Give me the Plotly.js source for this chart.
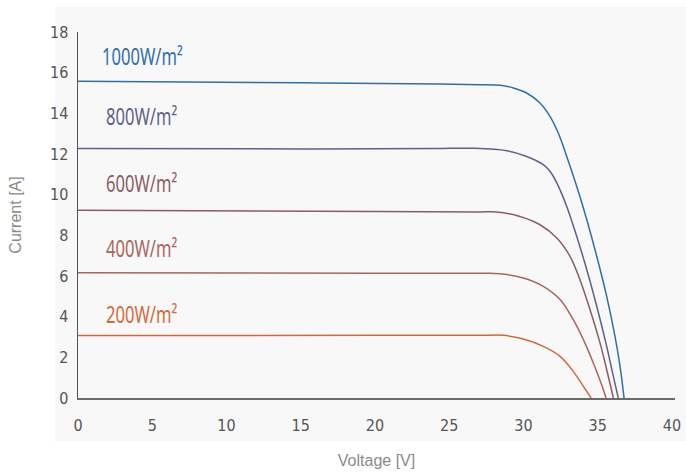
<!DOCTYPE html>
<html>
<head>
<meta charset="utf-8">
<script src="https://cdn.plot.ly/plotly-3.0.1.min.js"></script>
<style>
html,body{margin:0;padding:0;background:#fff;}
#chart{width:686px;height:472px;}
#chart .annotation-text{transform-box:fill-box;transform-origin:0% 50%;transform:scaleX(0.72);}
</style>
</head>
<body>
<div id="chart"></div>
<script>
// Irradiance series labels
const seriesNames = ["1000W/m²", "800W/m²", "600W/m²", "400W/m²", "200W/m²"];
const seriesColors = ["#2f6fa8", "#5f6089", "#8c5c63", "#aa655b", "#d06a3a"];

// Voltage [V] / Current [A]
const v1000 = [0, 15, 24.4, 27.07, 28.42, 29.31, 30.21, 31.11, 31.78, 32.34, 32.91, 33.58, 34.26, 34.93, 35.60, 36.16, 36.50, 36.77];
const i1000 = [15.58, 15.5, 15.44, 15.41, 15.38, 15.25, 15.00, 14.51, 13.85, 13.03, 11.88, 10.41, 8.77, 6.97, 5.00, 3.03, 1.55, 0];

const v800 = [0, 15, 24, 26.6, 28.87, 30.21, 31.33, 31.78, 32.24, 32.91, 33.58, 34.26, 34.93, 35.60, 36.05, 36.38];
const i800 = [12.27, 12.25, 12.27, 12.28, 12.16, 11.88, 11.48, 11.15, 10.58, 9.42, 7.95, 6.31, 4.51, 2.54, 1.06, 0];

const v600 = [0, 20, 27.07, 28.19, 29.76, 31.11, 32.24, 33.13, 33.80, 34.48, 35.15, 35.71, 36.05];
const i600 = [9.23, 9.17, 9.15, 9.15, 8.93, 8.52, 7.87, 6.97, 5.82, 4.34, 2.71, 1.06, 0];

const v400 = [0, 20, 27.07, 28.42, 29.99, 31.33, 32.46, 33.35, 34.03, 34.70, 35.26, 35.56];
const i400 = [6.16, 6.13, 6.13, 6.11, 5.90, 5.49, 4.84, 3.85, 2.87, 1.72, 0.65, 0];

const v200 = [0, 20, 27.07, 28.64, 29.99, 31.33, 32.46, 33.35, 34.03, 34.55];
const i200 = [3.07, 3.08, 3.08, 3.08, 2.90, 2.54, 2.05, 1.31, 0.57, 0];

const labelX = [1.48, 1.75, 1.75, 1.75, 1.75];
const labelY = [16.84, 13.89, 10.59, 7.39, 4.15];

const xTicks = [0, 5, 10, 15, 20, 25, 30, 35, 40];
const yTicks = [0, 2, 4, 6, 8, 10, 12, 14, 16, 18];

const vs = [v1000, v800, v600, v400, v200];
const is = [i1000, i800, i600, i400, i200];

const traces = vs.map((v, k) => ({
  x: v, y: is[k], type: 'scatter', mode: 'lines',
  line: {color: seriesColors[k], width: 1.5, shape: 'spline', smoothing: 1},
  name: seriesNames[k], hoverinfo: 'skip', cliponaxis: false
}));

const narrow = '"DejaVu Sans Condensed", "DejaVu Sans", sans-serif';

const annotations = seriesNames.map((t, k) => ({
  x: labelX[k], y: labelY[k], xref: 'x', yref: 'y', text: t, showarrow: false,
  xanchor: 'left', yanchor: 'middle',
  font: {family: '"Noto Sans", sans-serif', size: 23, color: seriesColors[k]}
}));

const layout = {
  width: 686, height: 472,
  margin: {l: 78, r: 11, t: 32, b: 74},
  paper_bgcolor: '#ffffff',
  plot_bgcolor: 'rgba(0,0,0,0)',
  showlegend: false,
  shapes: [{type: 'rect', xref: 'paper', yref: 'paper', x0: -0.0386, x1: 1.02, y0: -0.119, y1: 1.068,
            fillcolor: '#f8f8f8', line: {width: 0}, layer: 'below'}],
  xaxis: {
    range: [0, 40.2], tickvals: xTicks, ticktext: xTicks.map(String),
    showgrid: false, zeroline: false, showline: true, linecolor: '#6a6a6a', linewidth: 2,
    ticks: '', ticklabelstandoff: 12,
    tickfont: {family: narrow, size: 16, color: '#555555'},
    title: {text: 'Voltage [V]', font: {family: 'Liberation Sans, Arial, sans-serif', size: 16, color: '#8a8a8a'}, standoff: 21}
  },
  yaxis: {
    range: [0, 18], tickvals: yTicks, ticktext: yTicks.map(String),
    showgrid: false, zeroline: false, showline: true, linecolor: '#555555', linewidth: 1.5,
    ticks: '', ticklabelstandoff: 5,
    tickfont: {family: narrow, size: 16, color: '#555555'},
    title: {text: 'Current [A]', font: {family: 'Liberation Sans, Arial, sans-serif', size: 16, color: '#8a8a8a'}, standoff: 24}
  },
  annotations: annotations
};

Plotly.newPlot('chart', traces, layout, {displayModeBar: false, staticPlot: true});
</script>
</body>
</html>
